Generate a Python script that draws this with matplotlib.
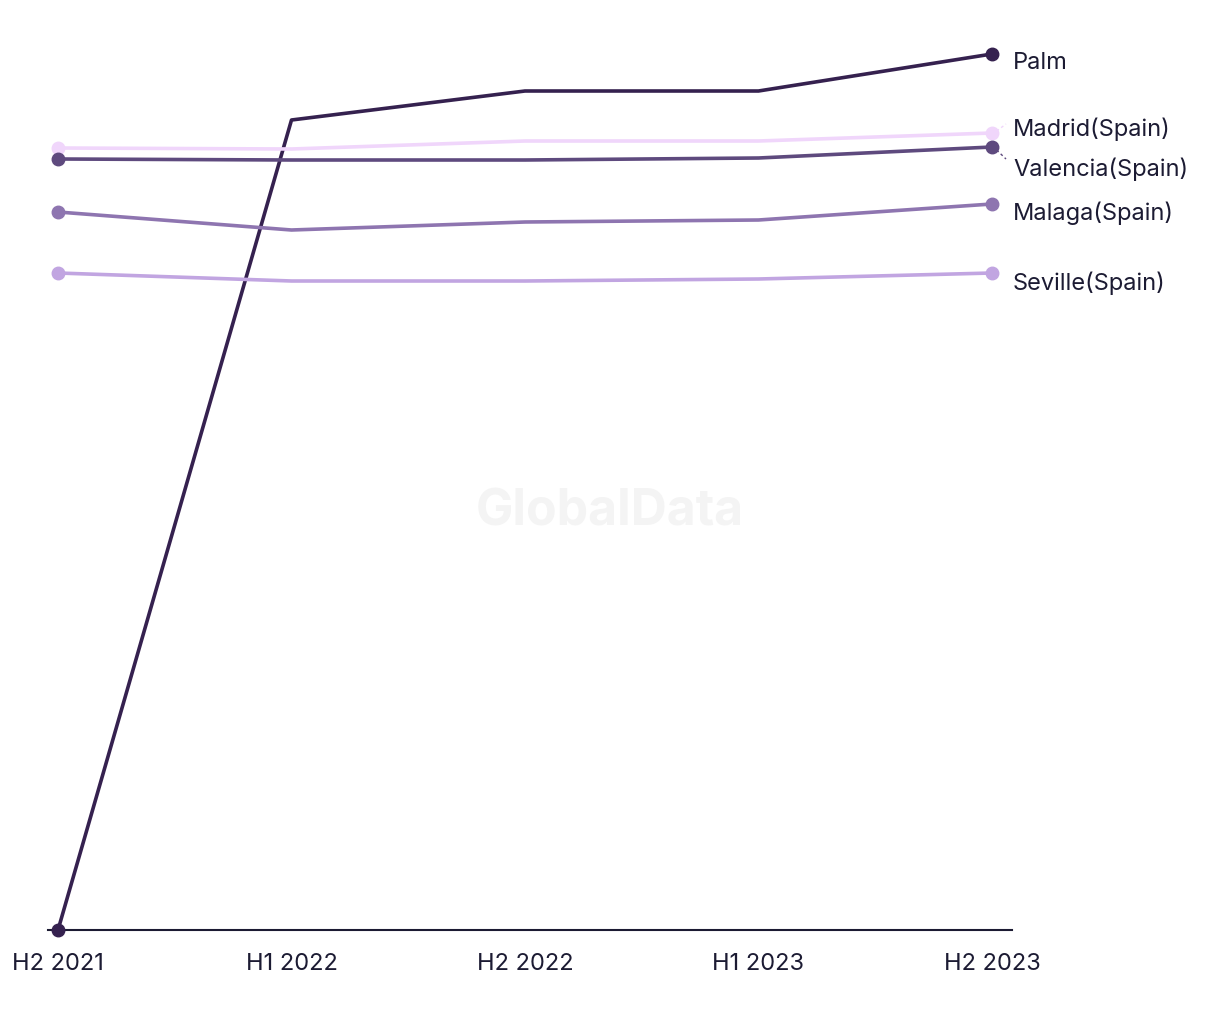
import matplotlib
matplotlib.use("Agg")
import matplotlib.pyplot as plt

periods = ["H2 2021", "H1 2022", "H2 2022", "H1 2023", "H2 2023"]
series_names = ["Palm", "Madrid(Spain)", "Valencia(Spain)", "Malaga(Spain)", "Seville(Spain)"]
palm = [0, 810, 839, 839, 876]
madrid = [782, 781, 789, 789, 797]
valencia = [771, 770, 770, 772, 783]
malaga = [718, 700, 708, 710, 726]
seville = [657, 649, 649, 651, 657]
series_values = [palm, madrid, valencia, malaga, seville]
colors = ["#35214f", "#f0d6fb", "#5e4a7e", "#8e75b0", "#c1a5e1"]
# label vertical offsets (in pixels) relative to last point
label_offsets = [-8, 5, -21, -8, -9]

plt.rcParams['font.family'] = ['Inter', 'DejaVu Sans']

W, H = 1220, 1020
fig = plt.figure(figsize=(W / 100, H / 100), dpi=100)
ax = fig.add_axes([48 / W, (H - 931) / H, (1012 - 48) / W, 910 / H])

x = list(range(len(periods)))
n = len(periods)
for name, vals, c, off in zip(series_names, series_values, colors, label_offsets):
    ax.plot(x, vals, color=c, lw=2.6, marker='o', markersize=9, markevery=[0, n - 1],
            zorder=3, solid_capstyle='round', clip_on=False)
    ax.annotate(name, xy=(x[-1], vals[-1]), xytext=(21, off), textcoords='offset pixels',
                ha='left', va='center', fontsize=17, color='#1c1b33',
                annotation_clip=False)

# connector lines for Madrid and Valencia
ax.plot([x[-1] + 0.02, x[-1] + 0.06], [madrid[-1] + 2, madrid[-1] + 9],
        color=colors[1], lw=1, ls=(0, (2, 2)), clip_on=False)
ax.plot([x[-1] + 0.02, x[-1] + 0.06], [valencia[-1] - 3, valencia[-1] - 12],
        color=colors[2], lw=1, ls=(0, (2, 2)), clip_on=False)

ax.set_xlim(-10 / 233.5, 4 + 20 / 233.5)
ax.set_ylim(0, 910)
ax.set_xticks(x)
ax.set_xticklabels(periods, fontsize=17, color='#1c1b33')
ax.tick_params(axis='x', length=0, pad=16)
ax.set_yticks([])
for s in ['top', 'right', 'left']:
    ax.spines[s].set_visible(False)
ax.spines['bottom'].set_color('#1c1b33')
ax.spines['bottom'].set_linewidth(1.5)
ax.spines['bottom'].set_zorder(2)

fig.text(610 / W, 1 - 512 / H, "GlobalData", fontsize=36, fontweight='bold',
         color='#f4f4f4', ha='center', va='center', zorder=0)

fig.savefig("out.png", dpi=100, facecolor='white')
